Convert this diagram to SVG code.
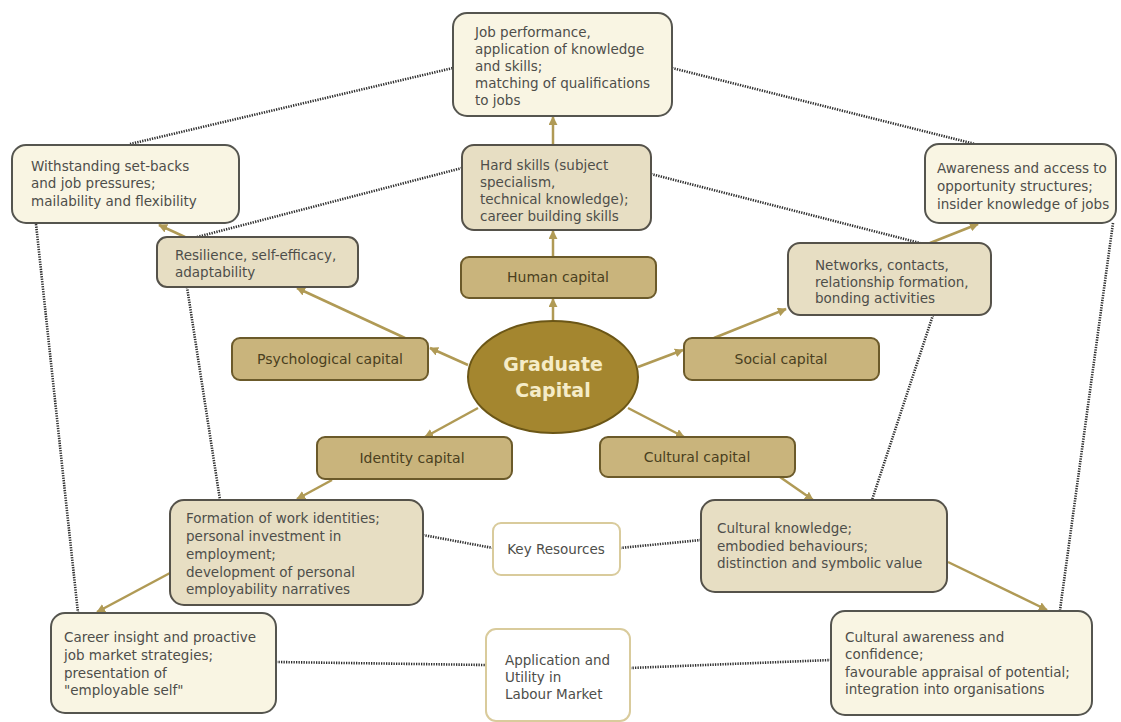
<svg xmlns="http://www.w3.org/2000/svg" width="1121" height="722" viewBox="0 0 1121 722">
<style>
.t{font-family:"DejaVu Sans","Liberation Sans",sans-serif;font-size:13.5px;fill:#4e4e4a}
.c{font-family:"DejaVu Sans","Liberation Sans",sans-serif;font-size:14px;fill:#4a3f20;text-anchor:middle}
.outer{fill:#f9f5e3;stroke:#55554f;stroke-width:2}
.mid{fill:#e7dec3;stroke:#55524a;stroke-width:2}
.cat{fill:#c9b47c;stroke:#6b5a2a;stroke-width:2}
.res{fill:#ffffff;stroke:#d9cb9c;stroke-width:2}
.arr{stroke:#b09a55;stroke-width:2.5;fill:none;marker-end:url(#ah)}
.dot{stroke:#2e2e2e;stroke-width:2.6;fill:none;stroke-dasharray:1.3 1.2}
</style>
<defs>
<marker id="ah" viewBox="0 0 10 10" refX="9" refY="5" markerWidth="9" markerHeight="9" markerUnits="userSpaceOnUse" orient="auto">
<path d="M0,0 L10,5 L0,10 z" fill="#b09a55"/>
</marker>
</defs>
<rect width="1121" height="722" fill="#ffffff"/>
<g id="connectors">
<line class="dot" x1="130" y1="144" x2="453" y2="68"/>
<line class="dot" x1="197" y1="237" x2="462" y2="168"/>
<line class="dot" x1="672" y1="68" x2="975" y2="144"/>
<line class="dot" x1="651" y1="174" x2="920" y2="243"/>
<line class="dot" x1="36" y1="224" x2="78" y2="613"/>
<line class="dot" x1="187" y1="287" x2="220" y2="500"/>
<line class="dot" x1="933" y1="315" x2="872" y2="500"/>
<line class="dot" x1="1113" y1="223" x2="1060" y2="610"/>
<line class="dot" x1="423" y1="535" x2="493" y2="548"/>
<line class="dot" x1="620" y1="548" x2="701" y2="540"/>
<line class="dot" x1="276" y1="662" x2="486" y2="665"/>
<line class="dot" x1="630" y1="668" x2="831" y2="660"/>
<line class="arr" x1="553" y1="145" x2="553" y2="117"/>
<line class="arr" x1="553" y1="257" x2="553" y2="231"/>
<line class="arr" x1="553" y1="321" x2="553" y2="299"/>
<line class="arr" x1="468" y1="365" x2="430" y2="348"/>
<line class="arr" x1="405" y1="338" x2="297" y2="288"/>
<line class="arr" x1="185" y1="237" x2="159" y2="225"/>
<line class="arr" x1="638" y1="367" x2="683" y2="350"/>
<line class="arr" x1="714" y1="338" x2="786" y2="309"/>
<line class="arr" x1="930" y1="243" x2="978" y2="224"/>
<line class="arr" x1="478" y1="408" x2="425" y2="437"/>
<line class="arr" x1="332" y1="480" x2="297" y2="499"/>
<line class="arr" x1="170" y1="573" x2="97" y2="612"/>
<line class="arr" x1="628" y1="408" x2="684" y2="437"/>
<line class="arr" x1="780" y1="477" x2="813" y2="500"/>
<line class="arr" x1="948" y1="562" x2="1047" y2="610"/>
</g>
<g id="job">
<rect class="outer" x="453" y="13" width="219" height="103" rx="14"/>
<text class="t"><tspan x="475" y="37">Job performance,</tspan><tspan x="475" y="54">application of knowledge</tspan><tspan x="475" y="71">and skills;</tspan><tspan x="475" y="88">matching of qualifications</tspan><tspan x="475" y="105">to jobs</tspan></text>
</g>
<g id="hard">
<rect class="mid" x="462" y="145" width="189" height="85" rx="12"/>
<text class="t"><tspan x="480" y="170">Hard skills (subject</tspan><tspan x="480" y="187">specialism,</tspan><tspan x="480" y="204">technical knowledge);</tspan><tspan x="480" y="221">career building skills</tspan></text>
</g>
<g id="withstanding">
<rect class="outer" x="12" y="145" width="227" height="78" rx="14"/>
<text class="t"><tspan x="31" y="171">Withstanding set-backs</tspan><tspan x="31" y="188">and job pressures;</tspan><tspan x="31" y="206">mailability and flexibility</tspan></text>
</g>
<g id="awareness">
<rect class="outer" x="925" y="144" width="191" height="79" rx="14"/>
<text class="t"><tspan x="937" y="173">Awareness and access to</tspan><tspan x="937" y="191">opportunity structures;</tspan><tspan x="937" y="209">insider knowledge of jobs</tspan></text>
</g>
<g id="resilience">
<rect class="mid" x="157" y="237" width="201" height="50" rx="10"/>
<text class="t"><tspan x="175" y="260">Resilience, self-efficacy,</tspan><tspan x="175" y="277">adaptability</tspan></text>
</g>
<g id="human">
<rect class="cat" x="461" y="257" width="195" height="41" rx="8"/>
<text class="c" x="558" y="282">Human capital</text>
</g>
<g id="networks">
<rect class="mid" x="788" y="243" width="203" height="72" rx="12"/>
<text class="t"><tspan x="815" y="270">Networks, contacts,</tspan><tspan x="815" y="287">relationship formation,</tspan><tspan x="815" y="303">bonding activities</tspan></text>
</g>
<g id="psych">
<rect class="cat" x="232" y="338" width="196" height="42" rx="8"/>
<text class="c" x="330" y="364">Psychological capital</text>
</g>
<g id="social">
<rect class="cat" x="684" y="338" width="195" height="42" rx="8"/>
<text class="c" x="781" y="364">Social capital</text>
</g>
<g id="graduate">
<ellipse cx="553" cy="377" rx="85" ry="56" fill="#a4862f" stroke="#6b5616" stroke-width="2"/>
<text font-family="DejaVu Sans, Liberation Sans, sans-serif" font-size="19" font-weight="bold" fill="#f5ecc8" text-anchor="middle"><tspan x="553" y="371">Graduate</tspan><tspan x="553" y="397">Capital</tspan></text>
</g>
<g id="identity">
<rect class="cat" x="317" y="437" width="195" height="42" rx="8"/>
<text class="c" x="412" y="463">Identity capital</text>
</g>
<g id="cultural">
<rect class="cat" x="600" y="437" width="195" height="40" rx="8"/>
<text class="c" x="697" y="462">Cultural capital</text>
</g>
<g id="formation">
<rect class="mid" x="170" y="500" width="253" height="105" rx="14"/>
<text class="t"><tspan x="186" y="523">Formation of work identities;</tspan><tspan x="186" y="541">personal investment in</tspan><tspan x="186" y="559">employment;</tspan><tspan x="186" y="577">development of personal</tspan><tspan x="186" y="594">employability narratives</tspan></text>
</g>
<g id="keyres">
<rect class="res" x="493" y="523" width="127" height="52" rx="8"/>
<text class="t" x="556" y="554" text-anchor="middle">Key Resources</text>
</g>
<g id="culturalknowledge">
<rect class="mid" x="701" y="500" width="246" height="92" rx="14"/>
<text class="t"><tspan x="717" y="533">Cultural knowledge;</tspan><tspan x="717" y="551">embodied behaviours;</tspan><tspan x="717" y="568">distinction and symbolic value</tspan></text>
</g>
<g id="career">
<rect class="outer" x="51" y="613" width="225" height="100" rx="14"/>
<text class="t"><tspan x="64" y="642">Career insight and proactive</tspan><tspan x="64" y="660">job market strategies;</tspan><tspan x="64" y="678">presentation of</tspan><tspan x="64" y="695">"employable self"</tspan></text>
</g>
<g id="application">
<rect class="res" x="486" y="629" width="144" height="92" rx="10"/>
<text class="t"><tspan x="505" y="665">Application and</tspan><tspan x="505" y="682">Utility in</tspan><tspan x="505" y="699">Labour Market</tspan></text>
</g>
<g id="culturalawareness">
<rect class="outer" x="831" y="611" width="261" height="104" rx="14"/>
<text class="t"><tspan x="845" y="642">Cultural awareness and</tspan><tspan x="845" y="659">confidence;</tspan><tspan x="845" y="677">favourable appraisal of potential;</tspan><tspan x="845" y="694">integration into organisations</tspan></text>
</g>
</svg>
